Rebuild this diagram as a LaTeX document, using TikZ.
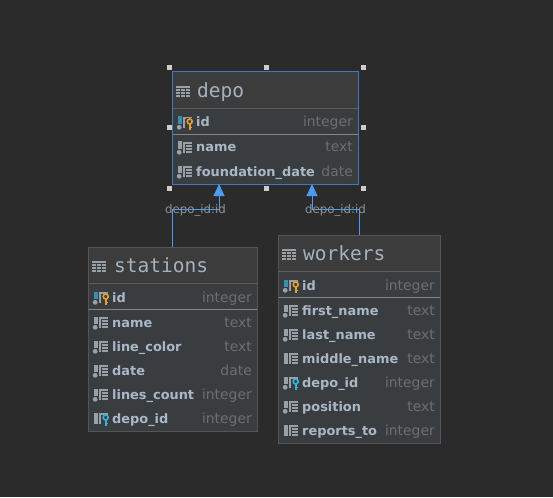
\documentclass[tikz,border=0pt]{standalone}
\usepackage{fontspec}
\setmainfont{DejaVu Sans}
\setmonofont{DejaVu Sans Mono}
\usetikzlibrary{arrows.meta}
\definecolor{canvas}{HTML}{2B2B2B}
\definecolor{headfill}{HTML}{3C3C3C}
\definecolor{bodyfill}{HTML}{3A3D40}
\definecolor{frameline}{HTML}{555555}
\definecolor{sepline}{HTML}{5E5E5E}
\definecolor{pkline}{HTML}{858585}
\definecolor{selblue}{HTML}{3F78BE}
\definecolor{linkblue}{HTML}{4C9BF0}
\definecolor{titletext}{HTML}{A4B2C0}
\definecolor{coltext}{HTML}{A9B7C6}
\definecolor{typetext}{HTML}{6E6E6E}
\definecolor{reltext}{HTML}{8A939B}
\definecolor{icongrey}{HTML}{98A1A8}
\definecolor{pkbar}{HTML}{3D8DB3}
\definecolor{pkkey}{HTML}{E0A030}
\definecolor{fkkey}{HTML}{35B0E0}
\tikzset{%
    x=1pt,y=1pt,%
    >=Triangle,%
    dbtable/.style={draw=frameline,line width=1pt,fill=bodyfill,inner sep=0pt,outer sep=0pt},%
    seltable/.style={dbtable,draw=selblue},%
    tabletitle/.style={anchor=base west,inner sep=0pt,font=\ttfamily\fontsize{19.5}{20}\selectfont,text=titletext},%
    colname/.style={anchor=base west,inner sep=0pt,font=\bfseries\fontsize{12.9}{14}\selectfont,text=coltext},%
    coltype/.style={anchor=base east,inner sep=0pt,font=\fontsize{13.9}{14}\selectfont,text=typetext},%
    rellabel/.style={inner sep=0pt,font=\fontsize{11.8}{12}\selectfont,text=reltext},%
    relline/.style={draw=linkblue,line width=1pt},%
    handle/.style={fill=black!20!white,draw=none,inner sep=0pt,outer sep=0pt,minimum size=5pt},%
    % small grid on the right of a column icon
    pics/colgrid/.style={code={
        \fill[icongrey] (5,-6) rectangle (13.7,5);
        \foreach \gy in {-3.2,-0.4,2.4} \draw[bodyfill,line width=.55pt] (7.4,\gy) -- (13.7,\gy);
        \draw[bodyfill,line width=.55pt] (7.4,-6) -- (7.4,2.4);
    }},
    pics/coldot/.style={code={\fill[icongrey] (1.2,-5.3) circle (2.4);}},
    pics/colicon/.style={code={
        \fill[icongrey] (-.5,-2) rectangle (4,5.5);
        \pic {colgrid};
        \pic {coldot};
    }},
    pics/nullicon/.style={code={
        \fill[icongrey] (-.5,-6) rectangle (4,5.5);
        \pic {colgrid};
    }},
    pics/keyshape/.style={code={
        \draw[#1,line width=1.6pt] (11.7,.5) circle (2.5);
        \draw[#1,line width=1.8pt] (11.7,-2) -- (11.7,-8);
        \draw[#1,line width=1.3pt] (11.7,-5.5) -- (14,-5.5);
    }},
    pics/pkicon/.style={code={
        \fill[pkbar] (-.5,-2) rectangle (4,5.5);
        \pic {colgrid};
        \pic {coldot};
        \fill[bodyfill] (7.5,-8.5) rectangle (15,3.5);
        \pic {keyshape=pkkey};
    }},
    pics/fkicon/.style={code={
        \fill[icongrey] (-.5,-6) rectangle (4,5.5);
        \pic {colgrid};
        \fill[bodyfill] (7.5,-8.5) rectangle (15,3.5);
        \pic {keyshape=fkkey};
    }},
    pics/fkdoticon/.style={code={
        \fill[icongrey] (-.5,-2) rectangle (4,5.5);
        \pic {colgrid};
        \pic {coldot};
        \fill[bodyfill] (7.5,-8.5) rectangle (15,3.5);
        \pic {keyshape=fkkey};
    }},
    % little table left of each title
    pics/titleicon/.style={code={
        \fill[icongrey] (0,0) rectangle (14,11);
        \foreach \gy in {3,6,8.6} \draw[headfill,line width=.6pt] (0,\gy) -- (14,\gy);
        \foreach \gx in {4.7,9.3} \draw[headfill,line width=.6pt] (\gx,0) -- (\gx,8.6);
    }},
}
\begin{document}
\begin{tikzpicture}
    \fill[canvas] (0,0) rectangle (553,-497);
    \useasboundingbox (0,0) rectangle (553,-497);

    % tables
    \node[seltable,minimum width=186pt,minimum height=112pt] (depo) at (265.5,-128) {};
    \node[dbtable,minimum width=169pt,minimum height=184pt] (stations) at (172.5,-339) {};
    \node[dbtable,minimum width=162pt,minimum height=208pt] (workers) at (359,-339) {};

    % depo
    \fill[headfill] (173,-72.5) rectangle (358,-108.5);
    \draw[sepline] (173,-108.5) -- (358,-108.5);
    \draw[pkline] (173,-134) -- (358,-134);
    \draw[selblue,line width=1pt] (depo.north west) rectangle (depo.south east);
    \pic at (176,-97) {titleicon};
    \node[tabletitle] (depotitle) at (197,-98) {depo};
    \foreach \rowy/\colkind/\coltitle/\typetitle [count=\i] in {122/pkicon/id/integer,
        147/colicon/name/text,171/colicon/foundation\_date/date}{
        \pic at (178,-\rowy) {\colkind};
        \node[colname] (depo-\i) at (196,-\rowy-5) {\coltitle};
        \node[coltype] (depotype-\i) at (353,-\rowy-5) {\typetitle};
    }

    % stations
    \fill[headfill] (88.5,-247.5) rectangle (256.5,-283);
    \draw[sepline] (88.5,-283) -- (256.5,-283);
    \draw[pkline] (88.5,-309) -- (256.5,-309);
    \pic at (92,-272) {titleicon};
    \node[tabletitle] (stationstitle) at (114,-272.5) {stations};
    \foreach \rowy/\colkind/\coltitle/\typetitle [count=\i] in {297/pkicon/id/integer,
        322/colicon/name/text,346/colicon/line\_color/text,370/colicon/date/date,
        394/colicon/lines\_count/integer,418/fkicon/depo\_id/integer}{
        \pic at (94,-\rowy) {\colkind};
        \node[colname] (stations-\i) at (112,-\rowy-5) {\coltitle};
        \node[coltype] (stationstype-\i) at (252,-\rowy-5) {\typetitle};
    }

    % workers
    \fill[headfill] (278.5,-235.5) rectangle (439.5,-271);
    \draw[sepline] (278.5,-271) -- (439.5,-271);
    \draw[pkline] (278.5,-297) -- (439.5,-297);
    \pic at (282,-260) {titleicon};
    \node[tabletitle] (workerstitle) at (303,-260.5) {workers};
    \foreach \rowy/\colkind/\coltitle/\typetitle [count=\i] in {285/pkicon/id/integer,
        310/colicon/first\_name/text,334/colicon/last\_name/text,358/nullicon/middle\_name/text,
        382/fkdoticon/depo\_id/integer,406/colicon/position/text,430/nullicon/reports\_to/integer}{
        \pic at (284,-\rowy) {\colkind};
        \node[colname] (workers-\i) at (302,-\rowy-5) {\coltitle};
        \node[coltype] (workerstype-\i) at (435,-\rowy-5) {\typetitle};
    }

    % foreign keys
    \coordinate (bendst) at (219,-209);
    \coordinate (bendwk) at (312,-209);
    \draw[relline,-{Triangle[width=11pt,length=12pt]}] (stations.north) |- (bendst) -- (bendst |- depo.south);
    \draw[relline,-{Triangle[width=11pt,length=12pt]}] (workers.north) |- (bendwk) -- (bendwk |- depo.south);
    \node[rellabel] (relst) at (195.5,-210) {depo\_id:id};
    \node[rellabel] (relwk) at (335.5,-210) {depo\_id:id};

    % selection handles
    \foreach \hx/\hy [count=\i] in {169/68,266/68,363/68,169/128,363/128,169/188,266/188,363/188}
        \node[handle] (handle\i) at (\hx,-\hy) {};
\end{tikzpicture}
\end{document}
